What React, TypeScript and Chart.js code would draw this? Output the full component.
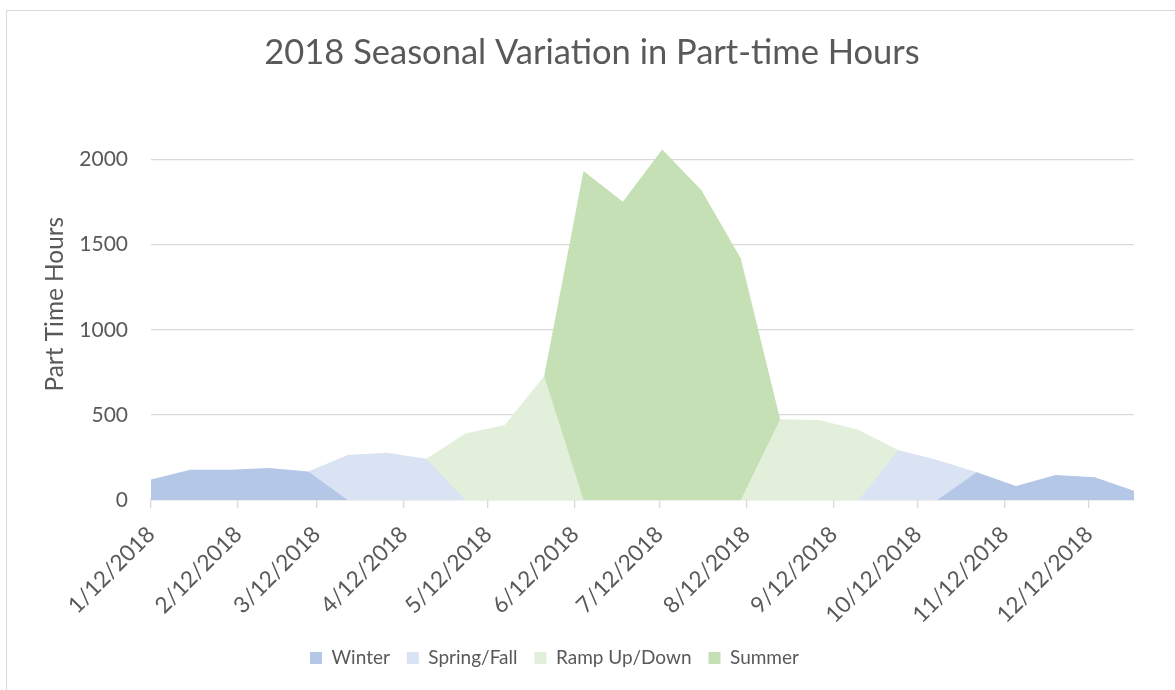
import React, { useEffect, useRef } from "react";
import { Chart, registerables } from "chart.js";

Chart.register(...registerables);

// ---- data ----
const dates = [
  "2018-01-12", "2018-01-26", "2018-02-09", "2018-02-23", "2018-03-09", "2018-03-23",
  "2018-04-06", "2018-04-20", "2018-05-04", "2018-05-18", "2018-06-01", "2018-06-15",
  "2018-06-29", "2018-07-13", "2018-07-27", "2018-08-10", "2018-08-24", "2018-09-07",
  "2018-09-21", "2018-10-05", "2018-10-19", "2018-11-02", "2018-11-16", "2018-11-30",
  "2018-12-14", "2018-12-28",
];
const winter = [120, 178, 178, 188, 168, 0, 0, 0, 0, 0, 0, 0, 0, 0, 0, 0, 0, 0, 0, 0, 0, 163, 82, 147, 133, 55];
const springFall = [0, 0, 0, 0, 168, 264, 278, 243, 0, 0, 0, 0, 0, 0, 0, 0, 0, 0, 0, 294, 235, 163, 0, 0, 0, 0];
const rampUpDown = [0, 0, 0, 0, 0, 0, 0, 243, 391, 440, 728, 0, 0, 0, 0, 0, 474, 470, 411, 294, 0, 0, 0, 0, 0, 0];
const summer = [0, 0, 0, 0, 0, 0, 0, 0, 0, 0, 728, 1932, 1752, 2059, 1820, 1419, 474, 0, 0, 0, 0, 0, 0, 0, 0, 0];

const seriesNames = ["Winter", "Spring/Fall", "Ramp Up/Down", "Summer"];
const tickDates = [
  "2018-01-12", "2018-02-12", "2018-03-12", "2018-04-12", "2018-05-12", "2018-06-12",
  "2018-07-12", "2018-08-12", "2018-09-12", "2018-10-12", "2018-11-12", "2018-12-12",
];
const tickLabels = [
  "1/12/2018", "2/12/2018", "3/12/2018", "4/12/2018", "5/12/2018", "6/12/2018",
  "7/12/2018", "8/12/2018", "9/12/2018", "10/12/2018", "11/12/2018", "12/12/2018",
];
const yTicks = [0, 500, 1000, 1500, 2000];

const TITLE = "2018 Seasonal Variation in Part-time Hours";
const Y_TITLE = "Part Time Hours";

// ---- styling ----
const COLORS = ["#B4C7E7", "#DAE3F3", "#E2EFDA", "#C5E0B4"];
const TEXT = "#595959";
const GRID = "#D9D9D9";
const FONT = "Lato";

const dayOf = (d: string) => Date.parse(d + "T00:00:00Z") / 86400000;
const day0 = dayOf(dates[0]);
const xOf = (d: string) => dayOf(d) - day0;

const CANVAS_W = 1175;
const CANVAS_H = 690;
const PLOT_BOTTOM = 500;
const TITLE_CENTER_X = 592;
const LEGEND_LEFT = 310;
const LEGEND_TEXT_Y = 658;
const LEGEND_PAD = 17;
const LEGEND_FONT = 19;

const placer = {
  id: "placer",
  afterLayout(chart: any) {
    const lg = chart.legend;
    if (lg) {
      const h = lg.height;
      lg.left = LEGEND_LEFT - LEGEND_PAD;
      lg.top = LEGEND_TEXT_Y - LEGEND_PAD - LEGEND_FONT / 2;
      lg.bottom = lg.top + h;
    }
    const tb = chart.titleBlock;
    if (tb) {
      tb.left = TITLE_CENTER_X - 500;
      tb.right = TITLE_CENTER_X + 500;
    }
  },
};

export default function App() {
  const ref = useRef<HTMLCanvasElement>(null);

  useEffect(() => {
    const series = [winter, springFall, rampUpDown, summer];
    const datasets = series.map((vals, k) => ({
      label: seriesNames[k],
      data: dates.map((d, i) => ({ x: xOf(d), y: vals[i] })),
      backgroundColor: COLORS[k],
      borderColor: COLORS[k],
      borderWidth: 0,
      pointRadius: 0,
      pointHoverRadius: 0,
      fill: "origin",
      tension: 0,
    }));

    const chart = new Chart(ref.current as HTMLCanvasElement, {
      type: "line",
      data: { datasets },
      plugins: [placer],
      options: {
        animation: false,
        responsive: false,
        maintainAspectRatio: false,
        layout: { padding: { left: 0, right: 41, top: 0, bottom: 0 } },
        plugins: {
          tooltip: { enabled: false },
          title: {
            display: true,
            text: TITLE,
            color: TEXT,
            font: { family: FONT, size: 34.5, weight: "normal" },
            padding: { top: 32, bottom: 35 },
          },
          legend: {
            display: true,
            position: "bottom",
            align: "start",
            labels: {
              color: TEXT,
              font: { family: FONT, size: LEGEND_FONT },
              boxWidth: 12,
              boxHeight: 12,
              padding: LEGEND_PAD,
            },
          },
        },
        scales: {
          x: {
            type: "linear",
            min: 0,
            max: xOf(dates[dates.length - 1]),
            afterBuildTicks: (scale: any) => {
              scale.ticks = tickDates.map((d) => ({ value: xOf(d) }));
            },
            afterFit: (scale: any) => {
              const lh = scale.chart.legend ? scale.chart.legend.height : 0;
              scale.height = CANVAS_H - PLOT_BOTTOM - lh;
            },
            ticks: {
              autoSkip: false,
              maxRotation: 45,
              minRotation: 45,
              padding: 13,
              color: TEXT,
              font: { family: FONT, size: 22.5 },
              callback: (_v: any, i: number) => tickLabels[i],
            },
            grid: {
              drawOnChartArea: false,
              drawTicks: true,
              tickLength: 8,
              color: GRID,
              lineWidth: 1.3,
            },
            border: { display: true, color: GRID, width: 1.3 },
          },
          y: {
            type: "linear",
            min: 0,
            max: 2300,
            afterBuildTicks: (scale: any) => {
              scale.ticks = yTicks.map((v) => ({ value: v }));
            },
            afterFit: (scale: any) => {
              scale.width = 151;
            },
            ticks: {
              padding: 23,
              color: TEXT,
              font: { family: FONT, size: 21 },
              callback: (v: any) => String(v),
            },
            grid: { drawTicks: false, color: GRID, lineWidth: 1.3 },
            border: { display: false },
            title: {
              display: true,
              text: Y_TITLE,
              color: TEXT,
              font: { family: FONT, size: 24.4 },
              padding: { top: 41, bottom: 0 },
            },
          },
        },
      },
    } as any);
    return () => chart.destroy();
  }, []);

  return (
    <div style={{ position: "fixed", inset: 0, overflow: "hidden", background: "#fff" }}>
      <div
        style={{
          position: "absolute",
          left: 6,
          top: 10,
          width: 1172,
          height: 700,
          border: `1px solid ${GRID}`,
        }}
      />
      <canvas
        ref={ref}
        width={CANVAS_W}
        height={CANVAS_H}
        style={{ position: "absolute", left: 0, top: 0 }}
      />
    </div>
  );
}
